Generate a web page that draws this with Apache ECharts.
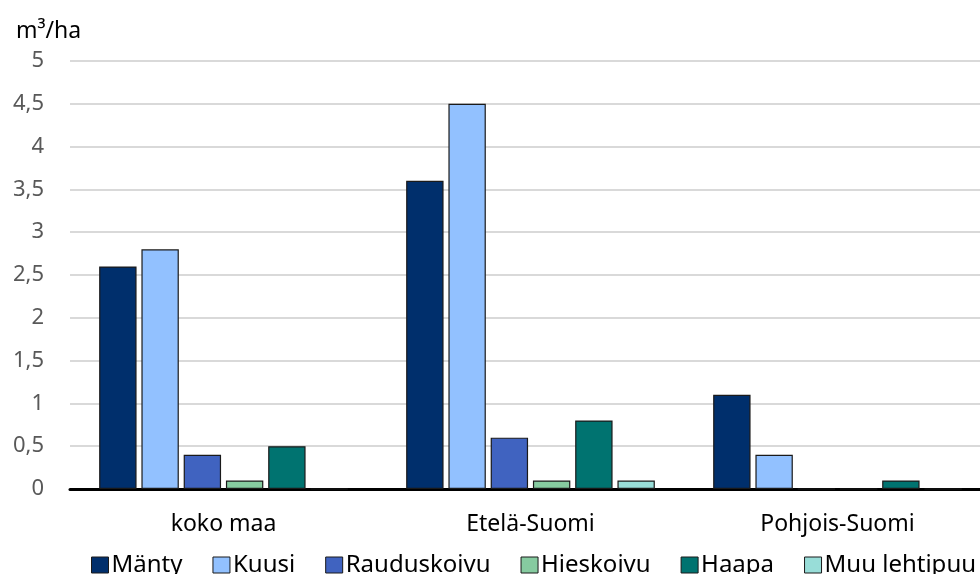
<!DOCTYPE html>
<html>
<head>
<meta charset="utf-8">
<script src="https://cdn.jsdelivr.net/npm/echarts@6/dist/echarts.min.js"></script>
<style>
    html, body { margin: 0; padding: 0; background: #fff; }
    #J_chart { width: 980px; height: 574px; }
</style>
</head>
<body>
<div id="J_chart"></div>
<script>
const FONT = '"Noto Sans", "DejaVu Sans", sans-serif';

// alueet
const regions = ['koko maa', 'Etelä-Suomi', 'Pohjois-Suomi'];

// puulajit ja värit
const species = ['Mänty', 'Kuusi', 'Rauduskoivu', 'Hieskoivu', 'Haapa', 'Muu lehtipuu'];
const colors = ['#002F6C', '#92C1FF', '#4063C0', '#86CBA0', '#007370', '#98DDD8'];

// m3/ha per alue
const manty = [2.6, 3.6, 1.1];
const kuusi = [2.8, 4.5, 0.4];
const rauduskoivu = [0.4, 0.6, 0];
const hieskoivu = [0.1, 0.1, 0];
const haapa = [0.5, 0.8, 0.1];
const muuLehtipuu = [0, 0.1, 0];

const yTicks = [0, 0.5, 1, 1.5, 2, 2.5, 3, 3.5, 4, 4.5, 5];

function initChart() {
    let values = [manty, kuusi, rauduskoivu, hieskoivu, haapa, muuLehtipuu];
    let series = species.map((name, i) => ({
        name: name,
        type: 'bar',
        barGap: '13%',
        barCategoryGap: '19%',
        itemStyle: {
            color: colors[i],
            borderColor: '#1a1a1a',
            borderWidth: 1.2
        },
        data: values[i]
    }));

    let options = {
        animation: false,
        textStyle: { fontFamily: FONT },
        title: {
            text: 'm³/ha',
            left: 11,
            top: 15,
            textStyle: {
                fontFamily: FONT,
                fontSize: 23,
                fontWeight: 'normal',
                color: '#000'
            }
        },
        // oikea reuna jatkuu kuvan ulkopuolelle
        grid: {
            top: 61,
            bottom: 85,
            left: 70,
            width: 921,
            outerBoundsMode: 'none'
        },
        legend: {
            top: 548,
            left: 86,
            width: 1000,
            itemWidth: 17,
            itemHeight: 16,
            itemGap: 30,
            icon: 'rect',
            itemStyle: {
                borderColor: '#1a1a1a',
                borderWidth: 1
            },
            textStyle: {
                fontFamily: FONT,
                fontSize: 24,
                color: '#000',
                padding: [0, 0, 0, -2]
            },
            data: species
        },
        xAxis: {
            type: 'category',
            data: regions,
            axisTick: { show: false },
            axisLine: {
                lineStyle: { color: '#000', width: 3 }
            },
            axisLabel: {
                fontFamily: FONT,
                fontSize: 23,
                color: '#000',
                margin: 24
            }
        },
        yAxis: {
            type: 'value',
            min: yTicks[0],
            max: yTicks[yTicks.length - 1],
            interval: 0.5,
            axisLine: { show: false },
            axisTick: { show: false },
            axisLabel: {
                fontFamily: FONT,
                fontSize: 22,
                color: '#595959',
                margin: 26,
                formatter: v => String(v).replace('.', ',')
            },
            splitLine: {
                lineStyle: { color: '#D9D9D9', width: 2 }
            }
        },
        series: series
    };
    let chart = echarts.init(document.getElementById('J_chart'));
    chart.setOption(options);
}

initChart();
</script>
</body>
</html>
